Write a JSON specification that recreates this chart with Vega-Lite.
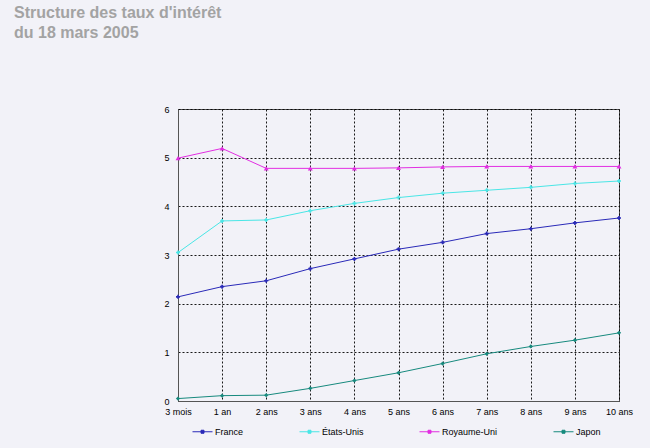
{
  "$schema": "https://vega.github.io/schema/vega-lite/v6.json",
  "autosize": {"type": "none"},
  "width": 441,
  "height": 292,
  "padding": {"left": 178, "top": 109, "right": 31, "bottom": 47},
  "background": "#f2f2f8",
  "title": {
    "text": ["Structure des taux d'intérêt", "du 18 mars 2005"],
    "anchor": "start",
    "frame": "group",
    "orient": "top",
    "dx": -164,
    "offset": 64,
    "font": "Liberation Sans",
    "fontSize": 16,
    "fontWeight": "bold",
    "color": "#a3a3a3",
    "lineHeight": 20
  },
  "config": {
    "view": {"stroke": "#555555", "strokeWidth": 1, "fill": "#f2f2f8"},
    "axis": {
      "labelFont": "Liberation Sans",
      "labelFontSize": 9,
      "labelColor": "#000000",
      "ticks": false,
      "grid": true,
      "gridColor": "#000000",
      "gridDash": [2, 2],
      "gridOpacity": 0.9,
      "domainColor": "#555555",
      "title": null
    },
    "legend": {
      "labelFont": "Liberation Sans",
      "labelFontSize": 9,
      "labelColor": "#000000"
    }
  },
  "data": {
    "values": [
      {"maturite": "3 mois", "pays": "France", "taux": 2.14},
      {"maturite": "1 an", "pays": "France", "taux": 2.35},
      {"maturite": "2 ans", "pays": "France", "taux": 2.47},
      {"maturite": "3 ans", "pays": "France", "taux": 2.72},
      {"maturite": "4 ans", "pays": "France", "taux": 2.92},
      {"maturite": "5 ans", "pays": "France", "taux": 3.12},
      {"maturite": "6 ans", "pays": "France", "taux": 3.26},
      {"maturite": "7 ans", "pays": "France", "taux": 3.44},
      {"maturite": "8 ans", "pays": "France", "taux": 3.54},
      {"maturite": "9 ans", "pays": "France", "taux": 3.66},
      {"maturite": "10 ans", "pays": "France", "taux": 3.76},
      {"maturite": "3 mois", "pays": "États-Unis", "taux": 3.05},
      {"maturite": "1 an", "pays": "États-Unis", "taux": 3.70},
      {"maturite": "2 ans", "pays": "États-Unis", "taux": 3.72},
      {"maturite": "3 ans", "pays": "États-Unis", "taux": 3.91},
      {"maturite": "4 ans", "pays": "États-Unis", "taux": 4.06},
      {"maturite": "5 ans", "pays": "États-Unis", "taux": 4.18},
      {"maturite": "6 ans", "pays": "États-Unis", "taux": 4.27},
      {"maturite": "7 ans", "pays": "États-Unis", "taux": 4.33},
      {"maturite": "8 ans", "pays": "États-Unis", "taux": 4.39},
      {"maturite": "9 ans", "pays": "États-Unis", "taux": 4.47},
      {"maturite": "10 ans", "pays": "États-Unis", "taux": 4.52},
      {"maturite": "3 mois", "pays": "Royaume-Uni", "taux": 4.99},
      {"maturite": "1 an", "pays": "Royaume-Uni", "taux": 5.19},
      {"maturite": "2 ans", "pays": "Royaume-Uni", "taux": 4.78},
      {"maturite": "3 ans", "pays": "Royaume-Uni", "taux": 4.78},
      {"maturite": "4 ans", "pays": "Royaume-Uni", "taux": 4.78},
      {"maturite": "5 ans", "pays": "Royaume-Uni", "taux": 4.79},
      {"maturite": "6 ans", "pays": "Royaume-Uni", "taux": 4.81},
      {"maturite": "7 ans", "pays": "Royaume-Uni", "taux": 4.82},
      {"maturite": "8 ans", "pays": "Royaume-Uni", "taux": 4.82},
      {"maturite": "9 ans", "pays": "Royaume-Uni", "taux": 4.82},
      {"maturite": "10 ans", "pays": "Royaume-Uni", "taux": 4.82},
      {"maturite": "3 mois", "pays": "Japon", "taux": 0.05},
      {"maturite": "1 an", "pays": "Japon", "taux": 0.11},
      {"maturite": "2 ans", "pays": "Japon", "taux": 0.12},
      {"maturite": "3 ans", "pays": "Japon", "taux": 0.26},
      {"maturite": "4 ans", "pays": "Japon", "taux": 0.42},
      {"maturite": "5 ans", "pays": "Japon", "taux": 0.58},
      {"maturite": "6 ans", "pays": "Japon", "taux": 0.77},
      {"maturite": "7 ans", "pays": "Japon", "taux": 0.97},
      {"maturite": "8 ans", "pays": "Japon", "taux": 1.12},
      {"maturite": "9 ans", "pays": "Japon", "taux": 1.25},
      {"maturite": "10 ans", "pays": "Japon", "taux": 1.40}
    ]
  },
  "encoding": {
    "x": {
      "field": "maturite",
      "type": "ordinal",
      "sort": ["3 mois", "1 an", "2 ans", "3 ans", "4 ans", "5 ans", "6 ans", "7 ans", "8 ans", "9 ans", "10 ans"],
      "scale": {"type": "point", "padding": 0},
      "axis": {"labelAngle": 0, "labelPadding": 6, "domain": true}
    },
    "y": {
      "field": "taux",
      "type": "quantitative",
      "scale": {"domain": [0, 6], "nice": false},
      "axis": {"values": [0, 1, 2, 3, 4, 5, 6], "labelPadding": 9, "format": "d"}
    },
    "color": {
      "field": "pays",
      "type": "nominal",
      "sort": ["France", "États-Unis", "Royaume-Uni", "Japon"],
      "scale": {
        "domain": ["France", "États-Unis", "Royaume-Uni", "Japon"],
        "range": ["#2a2ab8", "#4ae6e6", "#e22ee2", "#178a7e"]
      },
      "legend": {
        "orient": "none",
        "legendX": 14,
        "legendY": 312,
        "direction": "horizontal",
        "title": null,
        "symbolType": "M-1,0H1M-0.15,-0.15H0.15V0.15H-0.15Z",
        "symbolSize": 400,
        "symbolStrokeWidth": 1,
        "labelOffset": 2,
        "columnPadding": 53,
        "encode": {"symbols": {"update": {"fill": {"scale": "color", "field": "value"}}}}
      }
    }
  },
  "layer": [
    {
      "mark": {"type": "line", "strokeWidth": 1}
    },
    {
      "transform": [{"filter": "datum.pays === 'France' || datum.pays === 'États-Unis'"}],
      "mark": {"type": "point", "filled": true, "size": 16, "shape": "cross", "opacity": 1}
    },
    {
      "transform": [{"filter": "datum.pays === 'Royaume-Uni'"}],
      "mark": {"type": "point", "filled": true, "size": 24, "shape": "triangle-up", "opacity": 1}
    },
    {
      "transform": [{"filter": "datum.pays === 'Japon'"}],
      "mark": {"type": "point", "filled": true, "size": 18, "shape": "diamond", "opacity": 1}
    }
  ]
}
